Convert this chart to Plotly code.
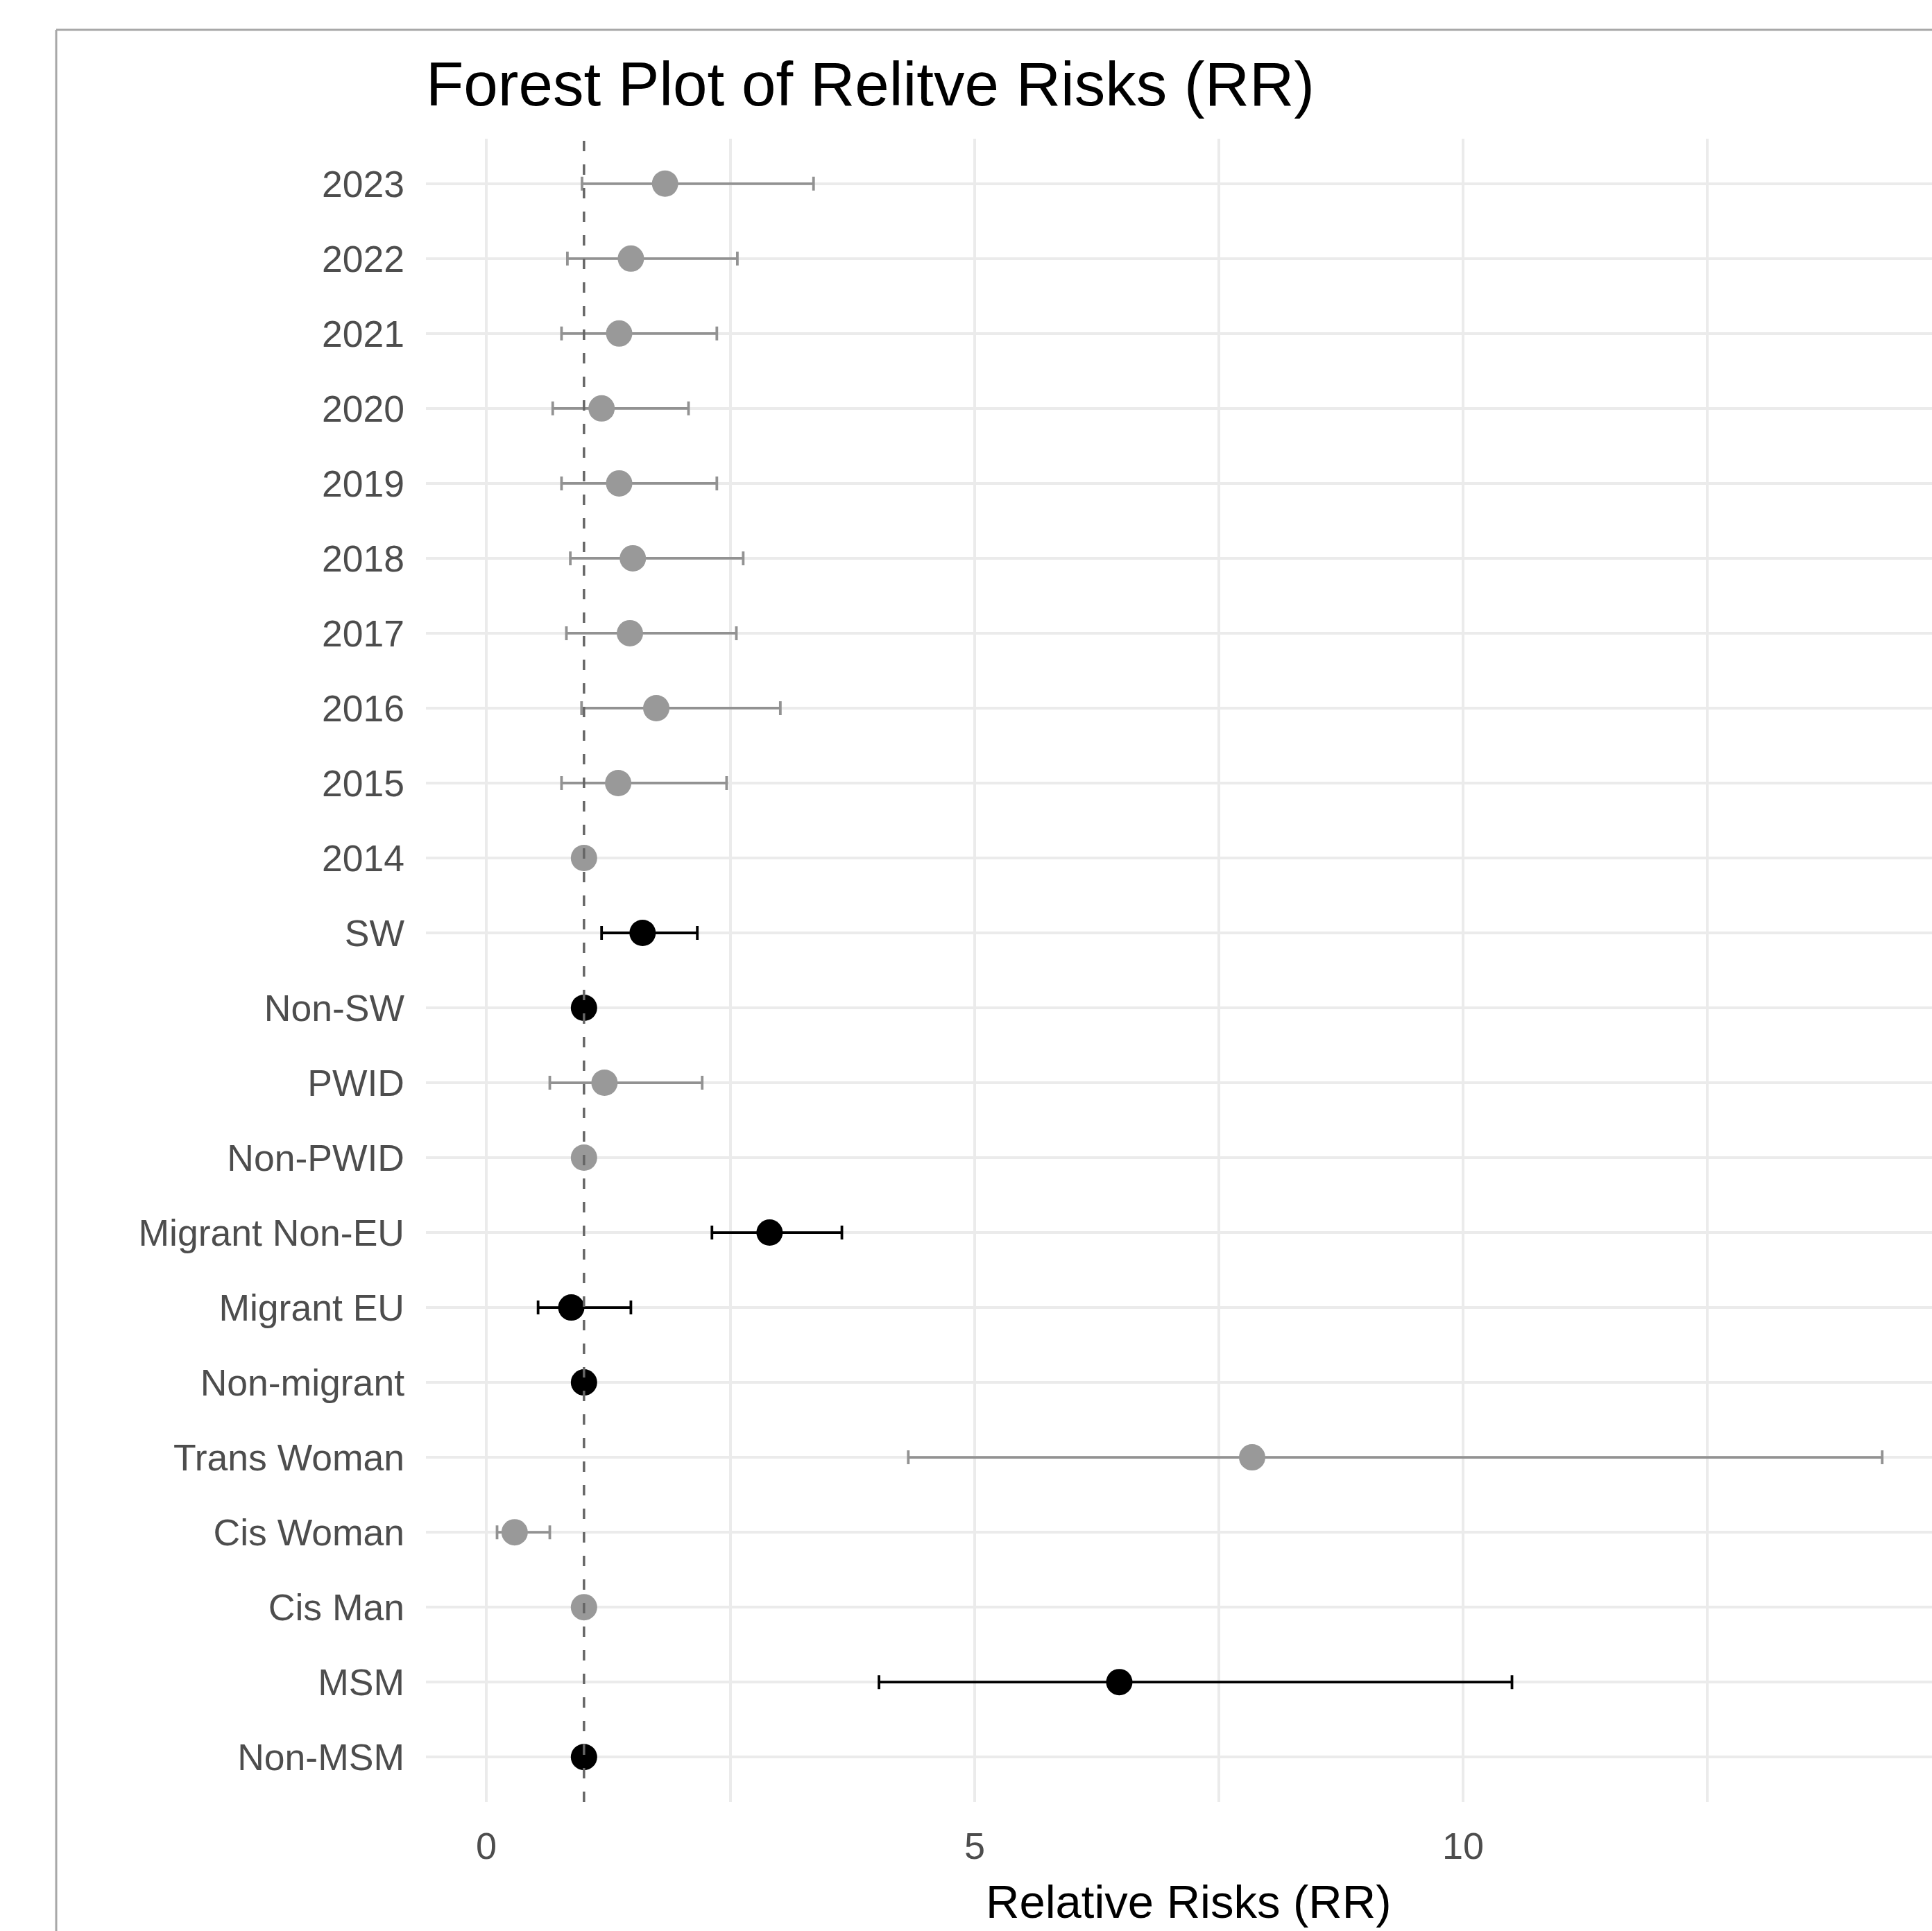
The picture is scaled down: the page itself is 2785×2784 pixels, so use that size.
import plotly.graph_objects as go

# Categories from bottom to top
categories = ["Non-MSM", "MSM", "Cis Man", "Cis Woman", "Trans Woman",
              "Non-migrant", "Migrant EU", "Migrant Non-EU",
              "Non-PWID", "PWID", "Non-SW", "SW",
              "2014", "2015", "2016", "2017", "2018", "2019", "2020", "2021", "2022", "2023"]
rr = [1.0, 6.48, 1.0, 0.29, 7.84,
      1.0, 0.87, 2.90,
      1.0, 1.21, 1.0, 1.60,
      1.0, 1.35, 1.74, 1.47, 1.50, 1.36, 1.18, 1.36, 1.48, 1.83]
ci_low = [None, 4.02, None, 0.11, 4.32,
          None, 0.53, 2.31,
          None, 0.65, None, 1.18,
          None, 0.77, 0.975, 0.82, 0.86, 0.77, 0.68, 0.77, 0.83, 0.98]
ci_high = [None, 10.50, None, 0.65, 14.29,
           None, 1.48, 3.64,
           None, 2.21, None, 2.16,
           None, 2.46, 3.01, 2.56, 2.63, 2.36, 2.07, 2.36, 2.57, 3.35]
significant = [True, True, False, False, False,
               True, True, True,
               False, False, True, True,
               False, False, False, False, False, False, False, False, False, False]

x_ticks = [0, 5, 10]
x_minor = [2.5, 7.5, 12.5]
title_text = "Forest Plot of Relitve Risks (RR)"
x_title = "Relative Risks (RR)"

FONT = "Liberation Sans, Arial, sans-serif"
GRAY = "#999999"
GRAY_BAR = "#929292"
BLACK = "#000000"

fig = go.Figure()
for flag, color, bar_color in [(False, GRAY, GRAY_BAR), (True, BLACK, BLACK)]:
    idx = [i for i, s in enumerate(significant) if s == flag]
    xs = [rr[i] for i in idx]
    ys = [categories[i] for i in idx]
    plus = [(ci_high[i] - rr[i]) if ci_high[i] is not None else None for i in idx]
    minus = [(rr[i] - ci_low[i]) if ci_low[i] is not None else None for i in idx]
    fig.add_trace(go.Scatter(
        x=xs, y=ys, mode="markers",
        marker=dict(color=color, size=38, line=dict(width=0)),
        error_x=dict(type="data", symmetric=False, array=plus, arrayminus=minus,
                     color=bar_color, thickness=3.8, width=10),
        showlegend=False, hoverinfo="skip"))

W, H = 2785, 2784
L, R, T, B = 614, 0, 200, 186
pw, ph = W - L - R, H - T - B

def px_to_paper_x(px):
    return (px - L) / pw

def px_to_paper_y(py):
    return (H - B - py) / ph

fig.update_layout(
    width=W, height=H, autosize=False,
    margin=dict(l=L, r=R, t=T, b=B, pad=0),
    paper_bgcolor="white", plot_bgcolor="white",
    font=dict(family=FONT, color="#4D4D4D"),
    xaxis=dict(range=[-0.618, 14.80], tickvals=x_ticks, ticktext=[str(v) for v in x_ticks],
               showgrid=True, gridcolor="#EBEBEB", gridwidth=4,
               minor=dict(tickvals=x_minor, showgrid=True, gridcolor="#EBEBEB", gridwidth=4, ticks=""),
               zeroline=False, showline=False, ticks="",
               tickfont=dict(size=54, color="#4D4D4D", family=FONT),
               ticklabelstandoff=27),
    yaxis=dict(type="category", categoryorder="array", categoryarray=categories,
               range=[-0.6, len(categories) - 0.4],
               showgrid=True, gridcolor="#EBEBEB", gridwidth=4,
               zeroline=False, showline=False, ticks="",
               tickfont=dict(size=53.5, color="#4D4D4D", family=FONT),
               ticklabelstandoff=30),
    shapes=[
        dict(type="line", xref="x", yref="paper", x0=1, x1=1, y0=0, y1=1,
             line=dict(color="#666666", width=3.5, dash="15px,19px"), layer="above"),
        dict(type="line", xref="paper", yref="paper",
             x0=px_to_paper_x(81), x1=px_to_paper_x(2800),
             y0=px_to_paper_y(43), y1=px_to_paper_y(43),
             line=dict(color="#A8A8A8", width=3)),
        dict(type="line", xref="paper", yref="paper",
             x0=px_to_paper_x(81), x1=px_to_paper_x(81),
             y0=px_to_paper_y(43), y1=px_to_paper_y(2800),
             line=dict(color="#A8A8A8", width=3)),
    ],
    annotations=[
        dict(text=title_text, xref="paper", yref="paper",
             x=px_to_paper_x(612), y=px_to_paper_y(69), xanchor="left", yanchor="top",
             showarrow=False, font=dict(size=89, color="#000000", family=FONT)),
        dict(text=x_title, xref="paper", yref="paper",
             x=px_to_paper_x(1713), y=px_to_paper_y(2702), xanchor="center", yanchor="top",
             showarrow=False, font=dict(size=67, color="#000000", family=FONT)),
    ],
)

fig.write_html("out.html", config={"displayModeBar": False},
               post_script="document.body.style.margin='0px';document.body.style.overflow='hidden';")
